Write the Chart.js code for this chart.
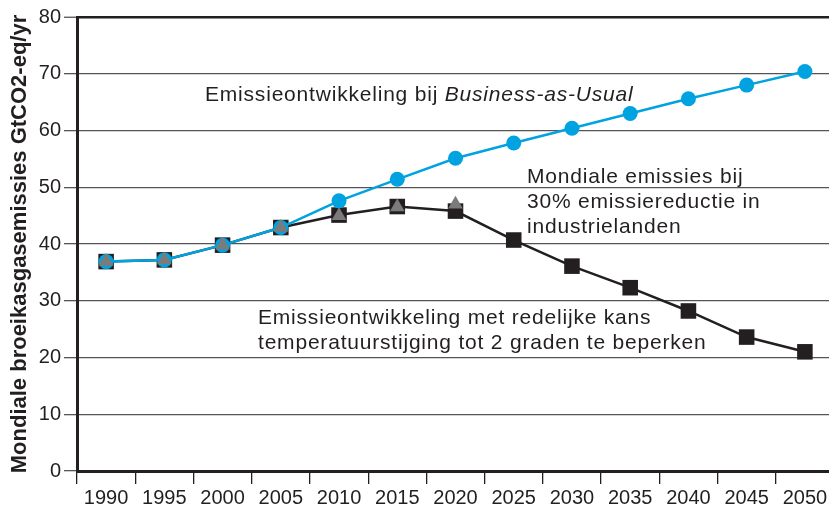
<!DOCTYPE html>
<html lang="nl">
<head>
    <meta charset="UTF-8" />
    <title>Mondiale broeikasgasemissies</title>
    <style>
        html, body { margin: 0; padding: 0; background: #fff; overflow: hidden; }
        #wrap { width: 834px; height: 508px; }
    </style>
    <script src="https://cdn.jsdelivr.net/npm/chart.js"></script>
</head>
<body>
    <div id="wrap">
        <canvas id="chart" width="834" height="508"></canvas>
    </div>
    <script>
        const years = ['1990', '1995', '2000', '2005', '2010', '2015', '2020', '2025', '2030', '2035', '2040', '2045', '2050'];
        // Business-as-Usual
        const bau = [36.9, 37.2, 39.8, 42.9, 47.6, 51.4, 55.1, 57.8, 60.4, 63.0, 65.6, 68.0, 70.4];
        // redelijke kans op max. 2 graden
        const twoDegrees = [36.9, 37.2, 39.8, 42.9, 45.1, 46.6, 45.8, 40.7, 36.1, 32.3, 28.2, 23.6, 21.0];
        // 30% reductie in industrielanden (tot 2020)
        const reduction30 = [36.9, 37.2, 39.8, 42.9, 45.0, 46.5, 47.0, null, null, null, null, null, null];
        const yTicks = { min: 0, max: 80, step: 10 };

        const FONT = '"Liberation Sans", Arial, sans-serif';

        // tekstlabels in de grafiek (pixelpositie linksonder, eerste regel)
        const notes = [
            { lines: ['Emissieontwikkeling bij ', 'Business-as-Usual'], x: 205, y: 101, italicSecond: true },
            { lines: ['Mondiale emissies bij', '30% emissiereductie in', 'industrielanden'], x: 527, y: 183 },
            { lines: ['Emissieontwikkeling met redelijke kans', 'temperatuurstijging tot 2 graden te beperken'], x: 258, y: 324 }
        ];

        const notesPlugin = {
            id: 'notes',
            afterDraw(chart) {
                const ctx = chart.ctx;
                ctx.save();
                ctx.fillStyle = '#231f20';
                ctx.textBaseline = 'alphabetic';
                ctx.textAlign = 'left';
                ctx.letterSpacing = '0.8px';
                notes.forEach(n => {
                    if (n.italicSecond) {
                        ctx.font = '21px ' + FONT;
                        ctx.fillText(n.lines[0], n.x, n.y);
                        const w = ctx.measureText(n.lines[0]).width;
                        ctx.font = 'italic 21px ' + FONT;
                        ctx.fillText(n.lines[1], n.x + w, n.y);
                    } else {
                        ctx.font = '21px ' + FONT;
                        n.lines.forEach((l, i) => ctx.fillText(l, n.x, n.y + i * 25));
                    }
                });
                ctx.restore();
            }
        };

        new Chart(document.getElementById('chart').getContext('2d'), {
            type: 'line',
            data: {
                labels: years,
                datasets: [
                    {
                        label: '30% reductie',
                        data: reduction30,
                        showLine: false,
                        pointStyle: 'triangle',
                        pointRadius: 8.5,
                        pointBackgroundColor: '#7b7b7b',
                        pointBorderWidth: 0
                    },
                    {
                        label: 'Business-as-Usual',
                        data: bau,
                        borderColor: '#00a3e0',
                        borderWidth: 2.5,
                        pointStyle: 'circle',
                        pointRadius: 7.5,
                        pointBackgroundColor: '#00a3e0',
                        pointBorderWidth: 0,
                        tension: 0
                    },
                    {
                        label: '2 graden',
                        data: twoDegrees,
                        borderColor: '#231f20',
                        borderWidth: 2.5,
                        pointStyle: 'rect',
                        pointRadius: 11,
                        pointBackgroundColor: '#231f20',
                        pointBorderWidth: 0,
                        tension: 0
                    }
                ]
            },
            options: {
                responsive: false,
                animation: false,
                layout: { autoPadding: false, padding: { top: 17, right: 0, bottom: 0, left: 0 } },
                plugins: { legend: { display: false }, tooltip: { enabled: false } },
                scales: {
                    x: {
                        type: 'category',
                        offset: true,
                        afterFit: s => { s.height = 37; },
                        grid: { offset: true, drawOnChartArea: false, drawTicks: true, tickLength: 13, color: '#231f20', lineWidth: 1.3 },
                        border: { color: '#231f20', width: 3 },
                        ticks: { color: '#231f20', font: { family: FONT, size: 20 }, padding: 2, maxRotation: 0, autoSkip: false }
                    },
                    y: {
                        min: yTicks.min,
                        max: yTicks.max,
                        afterFit: s => { s.width = 77; },
                        grid: {
                            color: ctx => ctx.tick && ctx.tick.value === yTicks.max ? '#231f20' : '#555',
                            lineWidth: ctx => ctx.tick && ctx.tick.value === yTicks.max ? 2.5 : 1.3,
                            tickLength: 13,
                            tickColor: '#555',
                            tickWidth: 1.3
                        },
                        border: { color: '#231f20', width: 3 },
                        ticks: { stepSize: yTicks.step, color: '#231f20', font: { family: FONT, size: 20 }, padding: 3 },
                        title: {
                            display: true,
                            text: 'Mondiale broeikasgasemissies GtCO2-eq/yr',
                            color: '#231f20',
                            font: { family: FONT, size: 22, weight: 'bold' },
                            padding: { top: 7, bottom: 0 }
                        }
                    }
                }
            },
            plugins: [notesPlugin]
        });
    </script>
</body>
</html>
